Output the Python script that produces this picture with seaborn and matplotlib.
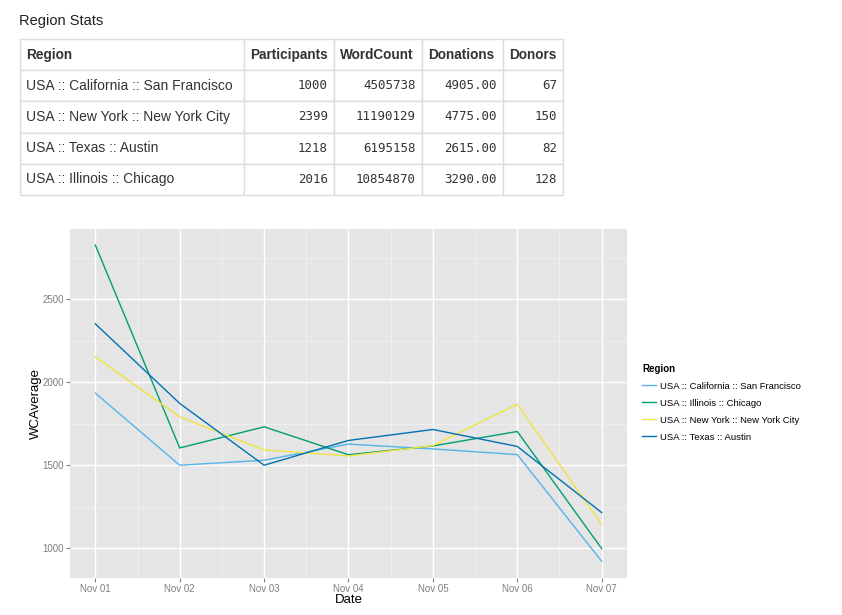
import matplotlib.pyplot as plt
import pandas as pd
import seaborn as sns

# -------------------------------------------------------
# data
regions = ['USA :: California :: San Francisco', 'USA :: New York :: New York City',
           'USA :: Texas :: Austin', 'USA :: Illinois :: Chicago']
participants = [1000, 2399, 1218, 2016]
word_count = [4505738, 11190129, 6195158, 10854870]
donations = [4905.00, 4775.00, 2615.00, 3290.00]
donors = [67, 150, 82, 128]

dates = ['Nov 01', 'Nov 02', 'Nov 03', 'Nov 04', 'Nov 05', 'Nov 06', 'Nov 07']
wc_san_francisco = [1934, 1500, 1530, 1627, 1598, 1564, 922]
wc_chicago = [2825, 1604, 1731, 1563, 1616, 1703, 998]
wc_new_york = [2152, 1791, 1592, 1556, 1618, 1867, 1143]
wc_austin = [2351, 1872, 1500, 1649, 1715, 1613, 1215]

legend_order = ['USA :: California :: San Francisco', 'USA :: Illinois :: Chicago',
                'USA :: New York :: New York City', 'USA :: Texas :: Austin']
palette = ['#56B4E9', '#009E73', '#F0E442', '#0072B2']

wc = pd.DataFrame({'Date': dates * 4,
                   'WCAverage': wc_san_francisco + wc_chicago + wc_new_york + wc_austin,
                   'Region': [r for r in legend_order for _ in dates]})

# -------------------------------------------------------
plt.rcParams['font.family'] = ['Liberation Sans', 'DejaVu Sans']
W, H = 842, 615
fig = plt.figure(figsize=(W / 100, H / 100), dpi=100)


def px_axes(x0, y0, x1, y1):
    # rect from pixel box (top-left origin)
    return [x0 / W, 1 - y1 / H, (x1 - x0) / W, (y1 - y0) / H]


# table title + table
fig.text(19 / W, 1 - 21 / H, 'Region Stats', fontsize=10.5, color='#222222', va='center')

tax = fig.add_axes(px_axes(20, 39, 563, 195))
tax.axis('off')
headers = ['Region', 'Participants', 'WordCount', 'Donations', 'Donors']
rows = [[regions[i], f'{participants[i]}', f'{word_count[i]}', f'{donations[i]:.2f}', f'{donors[i]}']
        for i in range(len(regions))]
col_px = [224, 90, 88, 81, 60]
tbl = tax.table(cellText=rows, colLabels=headers, colWidths=[c / sum(col_px) for c in col_px],
                bbox=[0, 0, 1, 1])
tbl.auto_set_font_size(False)
for (r, c), cell in tbl.get_celld().items():
    cell.set_edgecolor('#dddddd')
    cell.set_linewidth(1)
    cell.PAD = 6 / col_px[c]
    if r == 0:
        cell.set_text_props(fontsize=9.8, fontweight='bold', color='#333333', ha='left')
        cell._loc = 'left'
    elif c == 0:
        cell.set_text_props(fontsize=10, color='#333333', ha='left')
        cell._loc = 'left'
    else:
        cell.set_text_props(fontsize=9, color='#333333', family='DejaVu Sans Mono', ha='right')
        cell._loc = 'right'

# line chart
ax = fig.add_axes(px_axes(70, 229, 627, 578))
ax.set_facecolor('#E5E5E5')
sns.lineplot(data=wc, x='Date', y='WCAverage', hue='Region', hue_order=legend_order,
             palette=palette, linewidth=1, ax=ax, sort=False)

ax.set_xlim(-0.3, 6.3)
ax.set_ylim(821, 2922)
ax.set_yticks([1000, 1500, 2000, 2500])
ax.set_yticks([1250, 1750, 2250, 2750], minor=True)
ax.set_xticks([0.5, 1.5, 2.5, 3.5, 4.5, 5.5], minor=True)
ax.grid(which='major', color='white', linewidth=1)
ax.grid(which='minor', color='#F2F2F2', linewidth=0.5)
ax.set_axisbelow(True)
for s in ax.spines.values():
    s.set_visible(False)
ax.tick_params(which='major', length=3, color='#7F7F7F', labelsize=7, labelcolor='#7F7F7F', pad=1.5)
ax.tick_params(which='minor', length=0)
ax.set_xlabel('Date', fontsize=9.5, labelpad=0)
ax.set_ylabel('WCAverage', fontsize=9.5, labelpad=0)

leg = ax.legend(title='Region', loc='upper left', bbox_to_anchor=(1.02, 0.625), frameon=False,
                fontsize=6.8, title_fontsize=7, handlelength=1.5, labelspacing=0.85,
                handletextpad=0.4, borderaxespad=0)
leg.get_title().set_fontweight('bold')
leg._legend_box.align = 'left'

fig.savefig('out.png', dpi=100)
